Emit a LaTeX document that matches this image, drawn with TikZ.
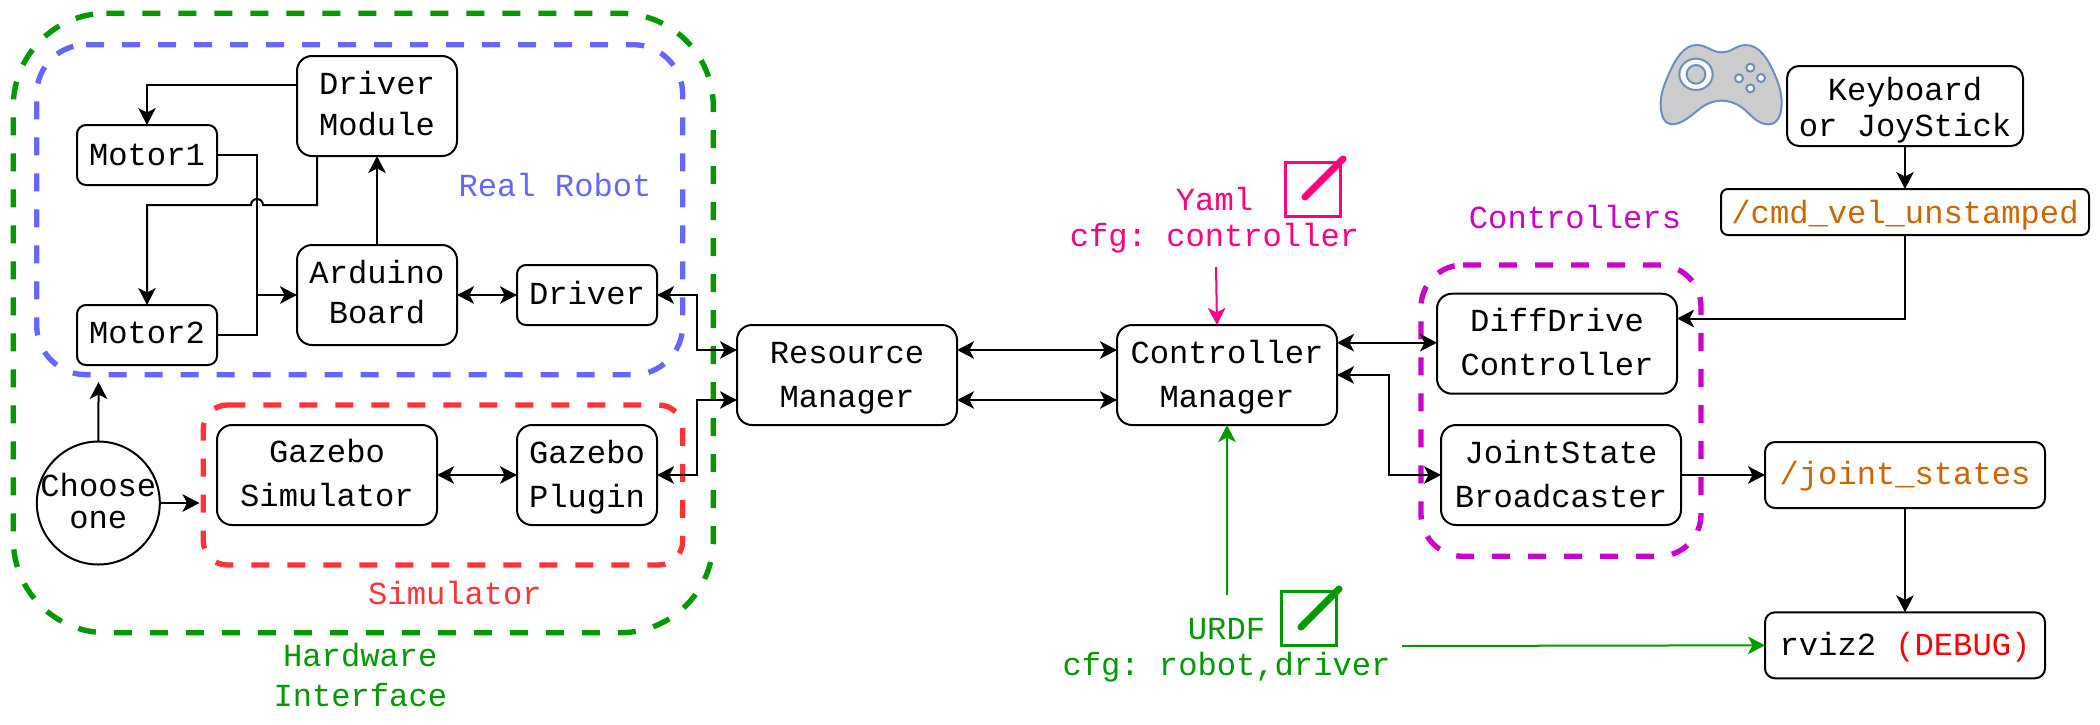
\documentclass[tikz,border=0pt]{standalone}
\usepackage{fontspec}
\setmainfont{Liberation Mono}
\usetikzlibrary{arrows.meta,calc}
\AtBeginDocument{\frenchspacing}
\definecolor{grn}{HTML}{009900}
\definecolor{blu}{HTML}{6666FF}
\definecolor{rd}{HTML}{FF3333}
\definecolor{mag}{HTML}{CC00CC}
\definecolor{pnk}{HTML}{FF0080}
\definecolor{org}{HTML}{CC6600}
\definecolor{padstroke}{HTML}{6C8EBF}
\newcommand{\fs}[1]{\fontsize{32.14}{#1}\selectfont}
\newcommand{\grouprect}[6]{%
  \draw[group=#1] ({#2+#6},#3) -- ({#4-#6},#3) arc[start angle=90,end angle=0,radius=#6 pt]
    -- (#4,{#5-#6}) arc[start angle=0,end angle=-90,radius=#6 pt]
    -- ({#2+#6},#5) arc[start angle=-90,end angle=-180,radius=#6 pt]
    -- (#2,{#3+#6}) arc[start angle=180,end angle=90,radius=#6 pt];}
\tikzset{
  box/.style={draw=black,fill=white,line width=2pt,rounded corners=#1,inner sep=0pt,outer sep=0pt,align=center,text depth=0pt},
  box/.default=15pt,
  gap/.style={font=\fs{#1}},
  gap=40,
  tb/.style={text depth=0pt,text height=2*#1 pt+3pt},
  lbl/.style={inner sep=0pt,outer sep=0pt,align=center,text depth=0pt,text height=3pt},
  group/.style={draw=#1,line width=5.36pt,dash pattern=on 18pt off 18pt,fill=none},
  conn/.style={line width=2pt,-{Stealth[length=17pt,width=17.5pt,inset=4.5pt]}},
  biconn/.style={line width=2pt,{Stealth[length=17pt,width=17.5pt,inset=4.5pt]}-{Stealth[length=17pt,width=17.5pt,inset=4.5pt]}},
  plain/.style={line width=2pt},
  penbox/.style={line width=3pt},
  penline/.style={line width=7pt,line cap=round},
}
\begin{document}
\begin{tikzpicture}[x=1pt,y=-1pt]
\useasboundingbox (0,0) rectangle (2100,724);
% groups
\grouprect{grn}{13.3}{13.3}{713.3}{632.7}{93}
\grouprect{blu}{36.7}{44.7}{682.7}{374.7}{49.5}
\grouprect{rd}{203.3}{405}{682.7}{565}{24}
\grouprect{mag}{1421}{265}{1701}{556.3}{42}
% boxes
\node[box=15pt,gap=40.4,tb=27.7,minimum width=160pt,minimum height=100pt] (dm) at (377,106) {Driver\\Module};
\node[box=9pt,gap=40,tb=9,minimum width=140pt,minimum height=60pt] (m1) at (147,155) {Motor1};
\node[box=9pt,gap=40,tb=7,minimum width=140pt,minimum height=60pt] (m2) at (147,335) {Motor2};
\node[box=15pt,gap=40,tb=26.7,minimum width=160pt,minimum height=100pt] (ab) at (377,295) {Arduino\\Board};
\node[box=9pt,gap=40,tb=8.3,minimum width=140pt,minimum height=60pt] (dr) at (587,295) {Driver};
\node[box=15pt,gap=44,tb=30.3,minimum width=220pt,minimum height=100pt] (gs) at (327,475) {Gazebo\\Simulator};
\node[box=15pt,gap=44,tb=30.5,minimum width=140pt,minimum height=100pt] (gp) at (587,475) {Gazebo\\Plugin};
\node[draw=black,fill=white,line width=2pt,circle,minimum size=123pt,inner sep=-12pt,outer sep=0pt,align=center,gap=32,tb=24.3] (ch) at (98.3,503) {Choose\\one};
\node[box=15pt,gap=44,tb=30.7,minimum width=220pt,minimum height=100pt] (rm) at (847,375) {Resource\\Manager};
\node[box=15pt,gap=44,tb=30.7,minimum width=220pt,minimum height=100pt] (cm) at (1227,375) {Controller\\Manager};
\node[box=15pt,gap=44,tb=30.3,minimum width=240pt,minimum height=100pt] (dd) at (1557,343.7) {DiffDrive\\Controller};
\node[box=15pt,gap=44.3,tb=31,minimum width=240pt,minimum height=100pt] (js) at (1561,475) {JointState\\Broadcaster};
\node[box=12pt,gap=35.7,tb=29,minimum width=236pt,minimum height=80pt] (kb) at (1905,106) {Keyboard\\or JoyStick};
\node[box=7pt,gap=40,tb=9.7,minimum width=368pt,minimum height=46pt,text=org] (cv) at (1905,212) {/cmd\_vel\_unstamped};
\node[box=10pt,gap=40,tb=8.3,minimum width=280pt,minimum height=66pt,text=org] (jt) at (1905,475) {/joint\_states};
\node[box=10pt,gap=40,tb=8.7,minimum width=280pt,minimum height=66pt] (rv) at (1905,645.3) {rviz2 \textcolor{red}{(DEBUG)}};
% labels
\node[lbl,gap=40,text=blu] (lreal) at (555,195) {Real Robot};
\node[lbl,gap=40,text=rd] (lsim) at (455,603.3) {Simulator};
\node[lbl,gap=40.3,text=grn] (lhw) at (360.3,705.3) {Hardware\\Interface};
\node[lbl,gap=35.7,text=pnk] (lyaml) at (1214.5,245) {Yaml\\cfg: controller};
\node[lbl,gap=36.3,text=grn] (lurdf) at (1226.5,674) {URDF\\cfg: robot,driver};
\node[lbl,gap=40,text=mag] (lctl) at (1575,226.7) {Controllers};
% connectors
\draw[conn] (dm.west |- 0,85) -| (m1.north);
\draw[conn] (dm.south -| 317,0) -- (317,205) -- (263,205) arc[start angle=0,end angle=180,radius=6pt] -- (147,205) -- (m2.north);
\draw[plain] (m1.east) -- (257,155) -- (257,295);
\draw[plain] (m2.east) -- (257,335) -- (257,295);
\draw[conn] (257,295) -- (ab.west);
\draw[conn] (ab.north) -- (dm.south);
\draw[biconn] (ab.east) -- (dr.west);
\draw[biconn] (gs.east) -- (gp.west);
\coordinate (chtop) at (98.6,382);
\coordinate (chright) at (199.5,503);
\draw[conn] (ch.north) -- (chtop);
\draw[conn] (ch.east) -- (chright);
\draw[biconn] (dr.east) -- (697,295) -- (697,350) -- (rm.west |- 0,350);
\draw[biconn] (gp.east) -- (697,475) -- (697,400) -- (rm.west |- 0,400);
\draw[biconn] (rm.east |- 0,350) -- (cm.west |- 0,350);
\draw[biconn] (rm.east |- 0,400) -- (cm.west |- 0,400);
\draw[biconn] (cm.east |- 0,342.7) -- (dd.west |- 0,342.7);
\draw[biconn] (cm.east |- 0,375) -- (1389,375) -- (1389,475) -- (js.west);
\draw[conn] (kb.south) -- (cv.north);
\draw[conn] (cv.south) |- (dd.east |- 0,318.5);
\draw[conn] (js.east) -- (jt.west |- js.east);
\draw[conn] (jt.south) -- (rv.north);
\coordinate (yamlfrom) at (1216,267);
\coordinate (urdffrom) at (1227,595);
\coordinate (rvfrom) at (1402,646);
\draw[conn,draw=pnk,-{Stealth[length=17pt,width=17.5pt,inset=4.5pt,fill=pnk]}] (yamlfrom) -- (1217,325);
\draw[conn,draw=grn,-{Stealth[length=17pt,width=17.5pt,inset=4.5pt,fill=grn]}] (urdffrom) -- (cm.south);
\draw[conn,draw=grn,-{Stealth[length=17pt,width=17.5pt,inset=4.5pt,fill=grn]}] (rvfrom) -- (rv.west);
% pen icons
\draw[penbox,draw=pnk] (1285.5,162.5) rectangle (1340.5,216.5);
\draw[penline,draw=pnk] (1305,197) -- (1343,159);
\draw[penbox,draw=grn] (1281.5,591.5) rectangle (1336.5,645.5);
\draw[penline,draw=grn] (1301,627) -- (1339,589);
% gamepad
\begin{scope}[shift={(1600,0)},x=0.3333pt,y=-0.3333pt]
\draw[draw=padstroke,fill=black!20,line width=2pt]
 (365,157) .. controls (395,157) and (410,135) .. (437,135)
 .. controls (480,135) and (505,180) .. (525,225)
 .. controls (540,260) and (545,285) .. (545,310)
 .. controls (545,350) and (530,373) .. (505,373)
 .. controls (470,373) and (450,340) .. (425,322)
 .. controls (405,308) and (385,302) .. (365,302)
 .. controls (345,302) and (325,308) .. (305,322)
 .. controls (280,340) and (250,373) .. (215,373)
 .. controls (195,373) and (182,350) .. (182,310)
 .. controls (182,285) and (190,260) .. (205,225)
 .. controls (225,180) and (250,135) .. (290,135)
 .. controls (320,135) and (335,157) .. (365,157) -- cycle;
\draw[draw=padstroke,fill=white,line width=2pt] (288,223) ellipse[x radius=50,y radius=47];
\draw[draw=padstroke,fill=black!20,line width=2pt] (288,223) circle[radius=28];
\foreach \px/\py in {451/203,417/235,483/234,451/265}
  \draw[draw=padstroke,fill=white,line width=2pt] (\px,\py) circle[radius=12];
\end{scope}
\end{tikzpicture}
\end{document}
